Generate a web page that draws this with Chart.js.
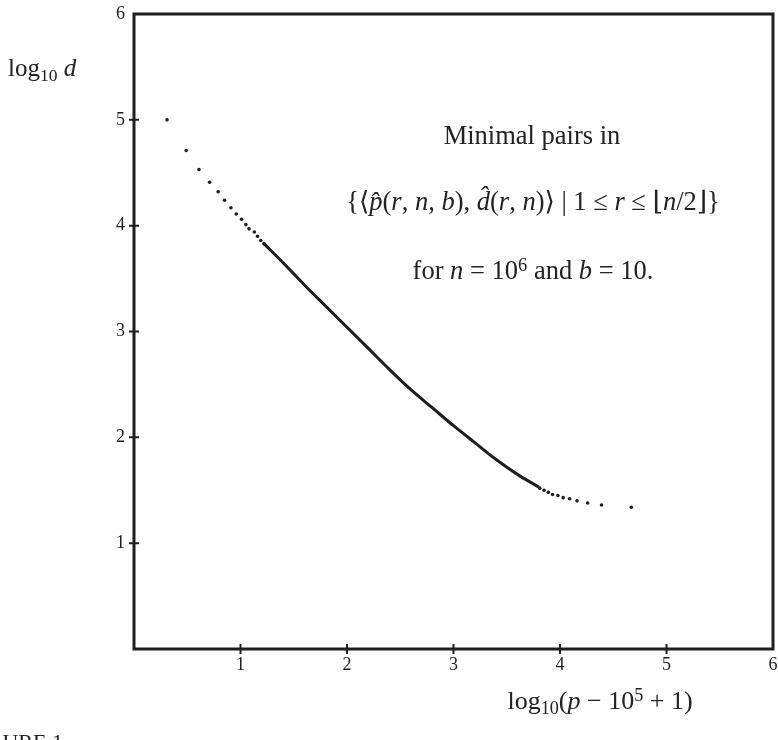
<!DOCTYPE html>
<html>
<head>
<meta charset="utf-8">
<script src="https://cdn.jsdelivr.net/npm/chart.js@4.4.1/dist/chart.umd.min.js"></script>
<style>
  html, body { margin: 0; padding: 0; background: #fff; }
  #wrap { position: relative; width: 778px; height: 740px; overflow: hidden; }
  #wrap canvas { position: absolute; left: 0; top: 0; }
  .txt { position: absolute; font-family: "Liberation Serif", "DejaVu Serif", serif; color: #222; white-space: nowrap; line-height: 1; }
  .txt i { font-style: italic; }
  .txt sub { font-size: 0.7em; vertical-align: -0.3em; line-height: 0; }
  .txt sup { font-size: 0.7em; vertical-align: 0.45em; line-height: 0; }
</style>
</head>
<body>
<div id="wrap">
  <canvas id="myChart" width="778" height="740"></canvas>
  <div class="txt" style="left:8px; top:55px; font-size:25px;">log<sub>10</sub> <i>d</i></div>
  <div class="txt" style="left:532px; top:122px; font-size:26.5px; transform:translateX(-50%);">Minimal pairs in</div>
  <div class="txt" style="left:533px; top:188px; font-size:26.5px; transform:translateX(-50%);">{⟨<i>p̂</i>(<i>r</i>, <i>n</i>, <i>b</i>), <i>d̂</i>(<i>r</i>, <i>n</i>)⟩ | 1 ≤ <i>r</i> ≤ ⌊<i>n</i>/2⌋}</div>
  <div class="txt" style="left:533px; top:257px; font-size:26.5px; transform:translateX(-50%);">for <i>n</i> = 10<sup>6</sup> and <i>b</i> = 10.</div>
  <div class="txt" style="left:600px; top:688px; font-size:26px; transform:translateX(-50%);">log<sub>10</sub>(<i>p</i> − 10<sup>5</sup> + 1)</div>
  <div class="txt" style="left:-33px; top:731px; font-size:22px;">FIGURE 1</div>
</div>
<script>
// sparse dots at the start of the curve (small r)
const headX = [0.31, 0.49, 0.61, 0.71, 0.79, 0.85, 0.91, 0.96, 1.01, 1.05, 1.08, 1.13, 1.16, 1.19, 1.22];
const headY = [5.00, 4.71, 4.53, 4.41, 4.32, 4.24, 4.17, 4.11, 4.06, 4.01, 3.97, 3.94, 3.90, 3.86, 3.83];

// dense middle part, dots merge into a solid line
const curveX = [1.22, 1.40, 1.60, 1.80, 2.00, 2.20, 2.40, 2.60, 2.80, 3.00, 3.20, 3.40, 3.60, 3.80];
const curveY = [3.83, 3.65, 3.44, 3.24, 3.04, 2.84, 2.64, 2.45, 2.28, 2.11, 1.95, 1.79, 1.65, 1.53];

// sparse dots at the tail
const tailX = [3.81, 3.85, 3.89, 3.93, 3.98, 4.03, 4.09, 4.16, 4.26, 4.39, 4.67];
const tailY = [1.52, 1.50, 1.48, 1.46, 1.45, 1.43, 1.42, 1.40, 1.38, 1.36, 1.34];

// axis ticks
const xTicks = [0, 1, 2, 3, 4, 5, 6];
const yTicks = [0, 1, 2, 3, 4, 5, 6];

const ink = '#1e1e1e';

function pts(xs, ys) {
    return xs.map((x, i) => ({ x: x, y: ys[i] }));
}

// frame and tick marks crossing the axes
const framePlugin = {
    id: 'frame',
    afterDraw(chart) {
        const ctx = chart.ctx;
        const a = chart.chartArea;
        const xs = chart.scales.x, ys = chart.scales.y;
        ctx.save();
        ctx.strokeStyle = ink;
        ctx.lineWidth = 3;
        ctx.strokeRect(a.left, a.top, a.right - a.left, a.bottom - a.top);
        ctx.lineWidth = 2;
        ctx.beginPath();
        yTicks.forEach(v => {
            if (v === 0 || v === 6) return;
            const py = ys.getPixelForValue(v);
            ctx.moveTo(a.left - 5, py);
            ctx.lineTo(a.left + 5, py);
        });
        xTicks.forEach(v => {
            if (v === 0 || v === 6) return;
            const px = xs.getPixelForValue(v);
            ctx.moveTo(px, a.bottom - 5);
            ctx.lineTo(px, a.bottom + 5);
        });
        ctx.stroke();
        ctx.restore();
    }
};

const ctx = document.getElementById('myChart').getContext('2d');
new Chart(ctx, {
    type: 'scatter',
    data: {
        datasets: [{
            label: 'head',
            data: pts(headX, headY),
            pointRadius: 1.8,
            pointBackgroundColor: ink,
            pointBorderWidth: 0,
            showLine: false
        }, {
            label: 'curve',
            data: pts(curveX, curveY),
            showLine: true,
            borderColor: ink,
            borderWidth: 3,
            pointRadius: 0,
            cubicInterpolationMode: 'monotone',
            fill: false
        }, {
            label: 'tail',
            data: pts(tailX, tailY),
            pointRadius: 1.8,
            pointBackgroundColor: ink,
            pointBorderWidth: 0,
            showLine: false
        }]
    },
    options: {
        responsive: false,
        animation: false,
        layout: { padding: { left: 0, top: 14, right: 5, bottom: 0 } },
        plugins: {
            legend: { display: false },
            tooltip: { enabled: false }
        },
        scales: {
            x: {
                type: 'linear',
                min: 0,
                max: 6,
                afterFit: s => { s.height = 91; s.paddingLeft = 0; s.paddingRight = 0; },
                afterBuildTicks: s => { s.ticks = xTicks.map(v => ({ value: v })); },
                grid: { display: false, drawTicks: false },
                border: { display: false },
                ticks: {
                    padding: 5,
                    color: ink,
                    font: { family: 'Liberation Serif', size: 18 },
                    maxRotation: 0,
                    callback: v => v === 0 ? '' : String(v)
                }
            },
            y: {
                type: 'linear',
                min: 0,
                max: 6,
                afterFit: s => { s.width = 134; s.paddingTop = 0; s.paddingBottom = 0; },
                afterBuildTicks: s => { s.ticks = yTicks.map(v => ({ value: v })); },
                grid: { display: false, drawTicks: false },
                border: { display: false },
                ticks: {
                    padding: 9,
                    color: ink,
                    font: { family: 'Liberation Serif', size: 18 },
                    callback: v => v === 0 ? '' : String(v)
                }
            }
        }
    },
    plugins: [framePlugin]
});
</script>
</body>
</html>
